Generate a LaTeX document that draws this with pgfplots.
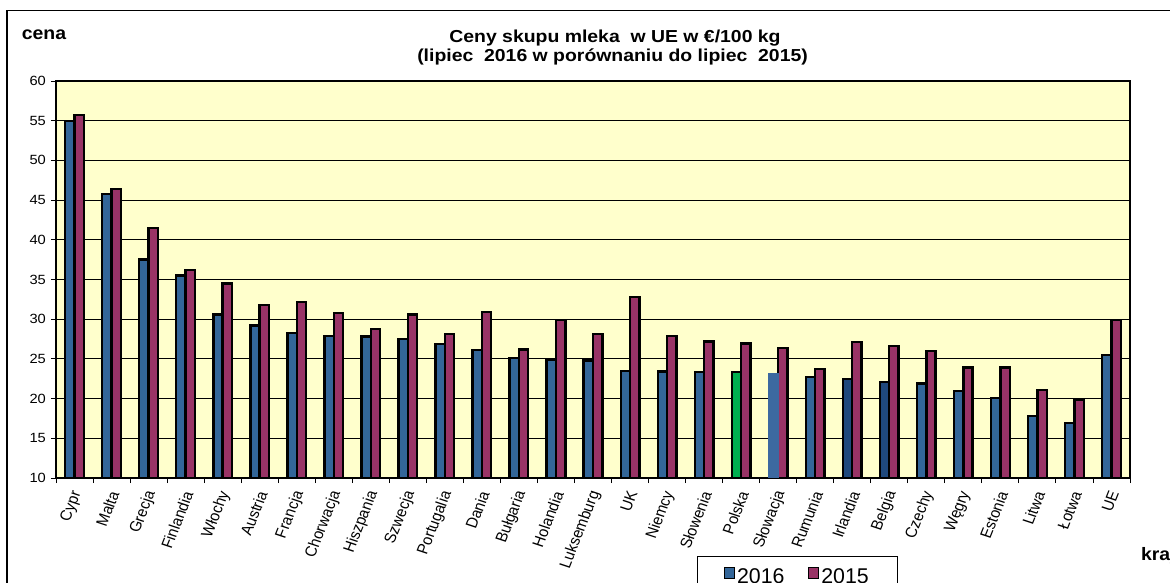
\documentclass[border=0pt]{standalone}
\usepackage{fontspec}
\setmainfont{Liberation Sans}
\usepackage{pgfplots}
\pgfplotsset{compat=1.18}

\definecolor{c2016}{RGB}{51,102,153}
\definecolor{c2015}{RGB}{153,51,102}
\definecolor{bgyellow}{RGB}{255,255,204}
\definecolor{plgreen}{RGB}{0,176,80}
\definecolor{skblue}{RGB}{60,105,160}
\definecolor{darkblue}{RGB}{31,73,125}

\begin{document}
\begin{tikzpicture}
\useasboundingbox (0,0) rectangle (877.5pt,436.5pt);

% outer chart frame (right and bottom edges lie outside the picture)
\draw[line width=0.8pt] (5.25pt,-10pt) -- (5.25pt,428.6pt) -- (900pt,428.6pt);

\node[font=\fontsize{13.5}{15}\selectfont\bfseries, xscale=1.08] at (33pt,410.25pt) {cena};
\node[font=\fontsize{13}{15}\selectfont\bfseries, xscale=1.12, anchor=base] at (461.25pt,404.5pt) {Ceny skupu mleka~~w UE w €/100 kg};
\node[font=\fontsize{13}{15}\selectfont\bfseries, xscale=1.12, anchor=base] at (459.4pt,390pt) {(lipiec~~2016 w porównaniu do lipiec~~2015)};
\node[font=\fontsize{13.5}{15}\selectfont\bfseries, xscale=1.08, anchor=base west] at (852pt,16.5pt) {kraj};

\begin{axis}[
  at={(42pt,78pt)}, anchor=south west,
  scale only axis,
  width=805.5pt, height=297.75pt,
  axis background/.style={fill=bgyellow},
  axis line style={line width=1.2pt},
  xmin=-0.5, xmax=28.5,
  ymin=10, ymax=60,
  ytick={10,15,...,60},
  xtick={-0.5,0.5,...,28.5},
  xticklabels={Cypr,Malta,Grecja,Finlandia,Włochy,Austria,Francja,Chorwacja,Hiszpania,Szwecja,Portugalia,Dania,Bułgaria,Holandia,Luksemburg,UK,Niemcy,Słowenia,Polska,Słowacja,Rumunia,Irlandia,Belgia,Czechy,Węgry,Estonia,Litwa,Łotwa,UE,{}},
  tick align=outside,
  tick pos=left,
  major tick length=3.75pt,
  tick style={black, line width=0.7pt},
  xticklabel style={font=\fontsize{11}{13}\selectfont, xshift=16pt, yshift=-6.5pt, xscale=1.1, rotate=70, anchor=east, inner sep=0pt},
  yticklabel style={font=\fontsize{10}{12}\selectfont, xscale=1.1},
  /pgf/number format/assume math mode=true,
  ymajorgrids,
  y grid style={black, line width=0.7pt},
  legend columns=2,
  legend style={
    at={(0.597,-0.196)}, anchor=north west,
    draw=black, line width=0.8pt,
    font=\fontsize{16}{18}\selectfont,
    inner xsep=19.4pt, inner ysep=7.5pt,
    /tikz/every even column/.append style={column sep=15.5pt},
  },
  legend image code/.code={\draw[#1, draw=black, line width=0.6pt] (0pt,-0.5pt) rectangle (7.5pt,7.75pt);},
]

% 2016 (Polska, Slowacja, Irlandia, Belgia drawn separately below)
\addplot[ybar, bar width=7pt, bar shift=-3.5pt, fill=c2016, draw=black, line width=1.8pt] coordinates {
 (0,55.0) (1,45.8) (2,37.5) (3,35.5) (4,30.6) (5,29.2) (6,28.3) (7,27.9) (8,27.8) (9,27.5)
 (10,26.9) (11,26.1) (12,25.1) (13,24.9) (14,24.8) (15,23.5) (16,23.4) (17,23.35)
 (20,22.7) (23,21.9) (24,20.95) (25,20.1) (26,17.8) (27,16.95) (28,25.5)
};
\addlegendentry{2016}

% 2015
\addplot[ybar, bar width=7pt, bar shift=3.5pt, fill=c2015, draw=black, line width=1.8pt] coordinates {
 (0,55.7) (1,46.4) (2,41.5) (3,36.2) (4,34.5) (5,31.8) (6,32.2) (7,30.8) (8,28.8) (9,30.6)
 (10,28.1) (11,30.9) (12,26.2) (13,29.9) (14,28.1) (15,32.8) (16,27.9) (17,27.2) (18,26.95)
 (19,26.4) (20,23.7) (21,27.1) (22,26.6) (23,26.0) (24,23.9) (25,23.9) (26,21.1) (27,19.9) (28,29.9)
};
\addlegendentry{2015}

% Polska 2016
\addplot[ybar, forget plot, bar width=7pt, bar shift=-3.5pt, fill=plgreen, draw=black, line width=1.8pt] coordinates {(18,23.35)};
% Slowacja 2016
\addplot[ybar, forget plot, bar width=8.5pt, bar shift=-3.5pt, fill=skblue, draw=none] coordinates {(19,23.2)};
% Irlandia, Belgia 2016
\addplot[ybar, forget plot, bar width=7pt, bar shift=-3.5pt, fill=darkblue, draw=black, line width=1.8pt] coordinates {(21,22.5) (22,22.1)};

\end{axis}
\end{tikzpicture}
\end{document}
